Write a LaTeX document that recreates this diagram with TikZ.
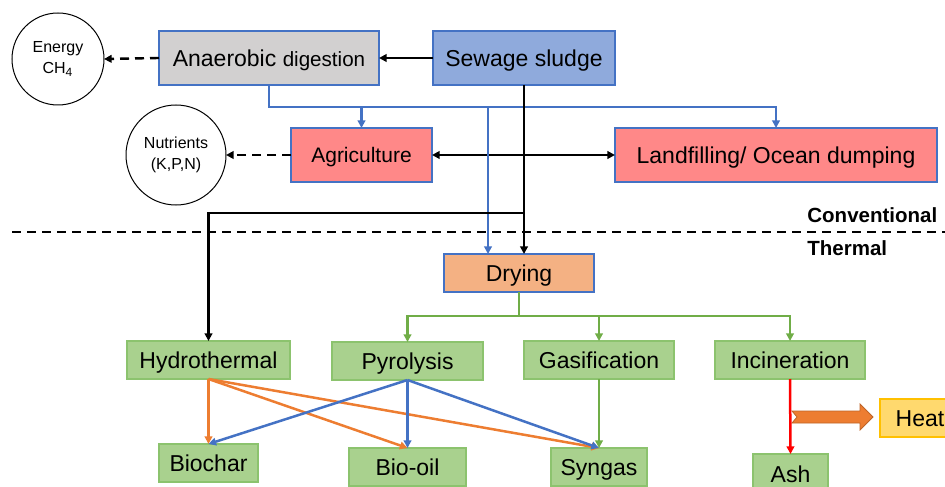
\documentclass[tikz,border=0pt]{standalone}
\usepackage{fontspec}
\setmainfont{Liberation Sans}
\usetikzlibrary{arrows.meta}
\definecolor{bl}{RGB}{68,114,196}
\definecolor{sludge}{RGB}{143,170,220}
\definecolor{grayf}{RGB}{210,208,208}
\definecolor{pinkf}{RGB}{255,136,136}
\definecolor{dryf}{RGB}{244,177,131}
\definecolor{greenf}{RGB}{169,209,142}
\definecolor{greend}{RGB}{140,195,110}
\definecolor{greenl}{RGB}{112,173,71}
\definecolor{orl}{RGB}{237,125,49}
\definecolor{heatf}{RGB}{255,217,110}
\definecolor{heatd}{RGB}{255,192,0}
\begin{document}
\begin{tikzpicture}[x=0.5pt,y=-0.5pt,
  box/.style={draw=bl, line width=0.6pt, inner sep=0pt, outer sep=0pt, font=\fontsize{11.5pt}{13pt}\selectfont, text height=8.2pt, text depth=0pt},
  gbox/.style={draw=greend, fill=greenf, line width=0.6pt, inner sep=0pt, outer sep=0pt, font=\fontsize{11.5pt}{13pt}\selectfont, text height=8.2pt, text depth=0pt},
  circ/.style={draw=black, circle, line width=0.5pt, inner sep=0pt, outer sep=0pt, align=center, font=\fontsize{8pt}{10.5pt}\selectfont},
  arr/.style={-{Triangle[length=3.8pt,width=3.8pt]}},
  darr/.style={{Triangle[length=3.8pt,width=3.8pt]}-{Triangle[length=3.8pt,width=3.8pt]}},
  blk/.style={draw=black, line width=1.4pt},
  dsh/.style={draw=black, line width=1.2pt, dash pattern=on 4.5pt off 3pt},
  bline/.style={draw=bl, line width=1.25pt},
  gline/.style={draw=greenl, line width=1.25pt},
  oline/.style={draw=orl, line width=1.25pt},
  rline/.style={draw=red, line width=1.25pt},
  lbl/.style={font=\bfseries\fontsize{10.25pt}{12pt}\selectfont, inner sep=0pt, anchor=west}
]
\useasboundingbox (0,0) rectangle (945,486);
\clip (0,0) rectangle (945,486);

% top nodes
\node[box, fill=grayf, minimum width=110pt, minimum height=27pt] (ad) at (269,58) {Anaerobic {\fontsize{10.3pt}{12pt}\selectfont digestion}};
\node[box, fill=sludge, minimum width=91pt, minimum height=27pt] (ss) at (524,58) {Sewage sludge};
\node[circ, minimum size=46pt] (en) at (58,59) {Energy\\CH\textsubscript{4}};
\node[box, fill=pinkf, minimum width=70.5pt, minimum height=27pt, font=\fontsize{10.5pt}{12pt}\selectfont, text height=7.5pt] (agr) at (361.5,155) {Agriculture};
\node[box, fill=pinkf, minimum width=161pt, minimum height=27pt] (lf) at (776,155) {Landfilling/ Ocean dumping};
\node[circ, minimum size=50pt] (nut) at (176,155) {Nutrients\\(K,P,N)};

% labels and divider
\node[lbl] (conv) at (807,215) {Conventional};
\node[lbl] (therm) at (807,248) {Thermal};
\coordinate (dl) at (12,232);
\coordinate (dr) at (945,232);
\draw[dsh] (dl) -- (dr);

% thermal nodes
\node[box, fill=dryf, minimum width=75pt, minimum height=19pt] (dry) at (519,273) {Drying};
\node[gbox, minimum width=81.5pt, minimum height=19pt] (hyd) at (208.5,360) {Hydrothermal};
\node[gbox, minimum width=75.5pt, minimum height=19pt] (pyr) at (407.5,361) {Pyrolysis};
\node[gbox, minimum width=75pt, minimum height=19pt] (gas) at (599,360) {Gasification};
\node[gbox, minimum width=75pt, minimum height=19pt] (inc) at (790,360) {Incineration};
\node[gbox, minimum width=49.5pt, minimum height=19pt] (bch) at (208.5,463) {Biochar};
\node[gbox, minimum width=58.5pt, minimum height=19pt] (boil) at (407.5,467) {Bio-oil};
\node[gbox, minimum width=48pt, minimum height=19pt] (syn) at (599,467) {Syngas};
\node[gbox, minimum width=37.5pt, minimum height=20pt] (ash) at (790.5,474) {Ash};
\node[draw=heatd, fill=heatf, line width=0.6pt, inner sep=0pt, outer sep=0pt, minimum width=40pt, minimum height=19pt, font=\fontsize{11.5pt}{13pt}\selectfont, text height=8.2pt, text depth=0pt] (heat) at (920,418) {Heat};

% conventional connectors
\draw[blk, arr] (ss.west) -- (ad.east);
\draw[dsh, arr] (ad.west) -- (en.east);
\draw[dsh, arr] (agr.west) -- (nut.east);
\draw[blk, darr] (agr.east) -- (lf.west);

\coordinate (bj) at (269,107);
\coordinate (bd) at (488,107);
\draw[bline, arr] (ad.south) -- (bj) -| (lf.north);
\draw[bline, arr] (bj -| agr.north) -- (agr.north);
\draw[bline, arr] (bd) -- (bd |- dry.north);

\coordinate (kj) at (524,213);
\draw[blk, arr] (ss.south) -- (ss.south |- dry.north);
\draw[blk, arr] (kj) -| (hyd.north);

% thermal connectors
\coordinate (gj) at (519,316);
\draw[gline, arr] (dry.south) -- (gj) -| (pyr.north);
\draw[gline, arr] (gj) -| (inc.north);
\draw[gline, arr] (gas.north |- gj) -- (gas.north);
\draw[gline, arr] (gas.south) -- (syn.north);

\draw[oline, arr] (hyd.south) -- (bch.north);
\draw[oline, arr] (hyd.south) -- (boil.north);
\draw[oline, arr] (hyd.south) -- (syn.north);
\draw[bline, arr] (pyr.south) -- (bch.north);
\draw[bline, arr] (pyr.south) -- (boil.north);
\draw[bline, arr] (pyr.south) -- (syn.north);

% heat block arrow
\coordinate (ha) at (792,417);
\draw[fill=orl, draw=orl!80!black, line width=0.4pt]
  (ha) ++(0,-6) -- ++(68,0) -- ++(0,-7) -- ++(13,13) -- ++(-13,13) -- ++(0,-7) -- ++(-68,0) -- ++(5,-6) -- cycle;
\draw[rline, arr] (inc.south) -- (ash.north);
\end{tikzpicture}
\end{document}
